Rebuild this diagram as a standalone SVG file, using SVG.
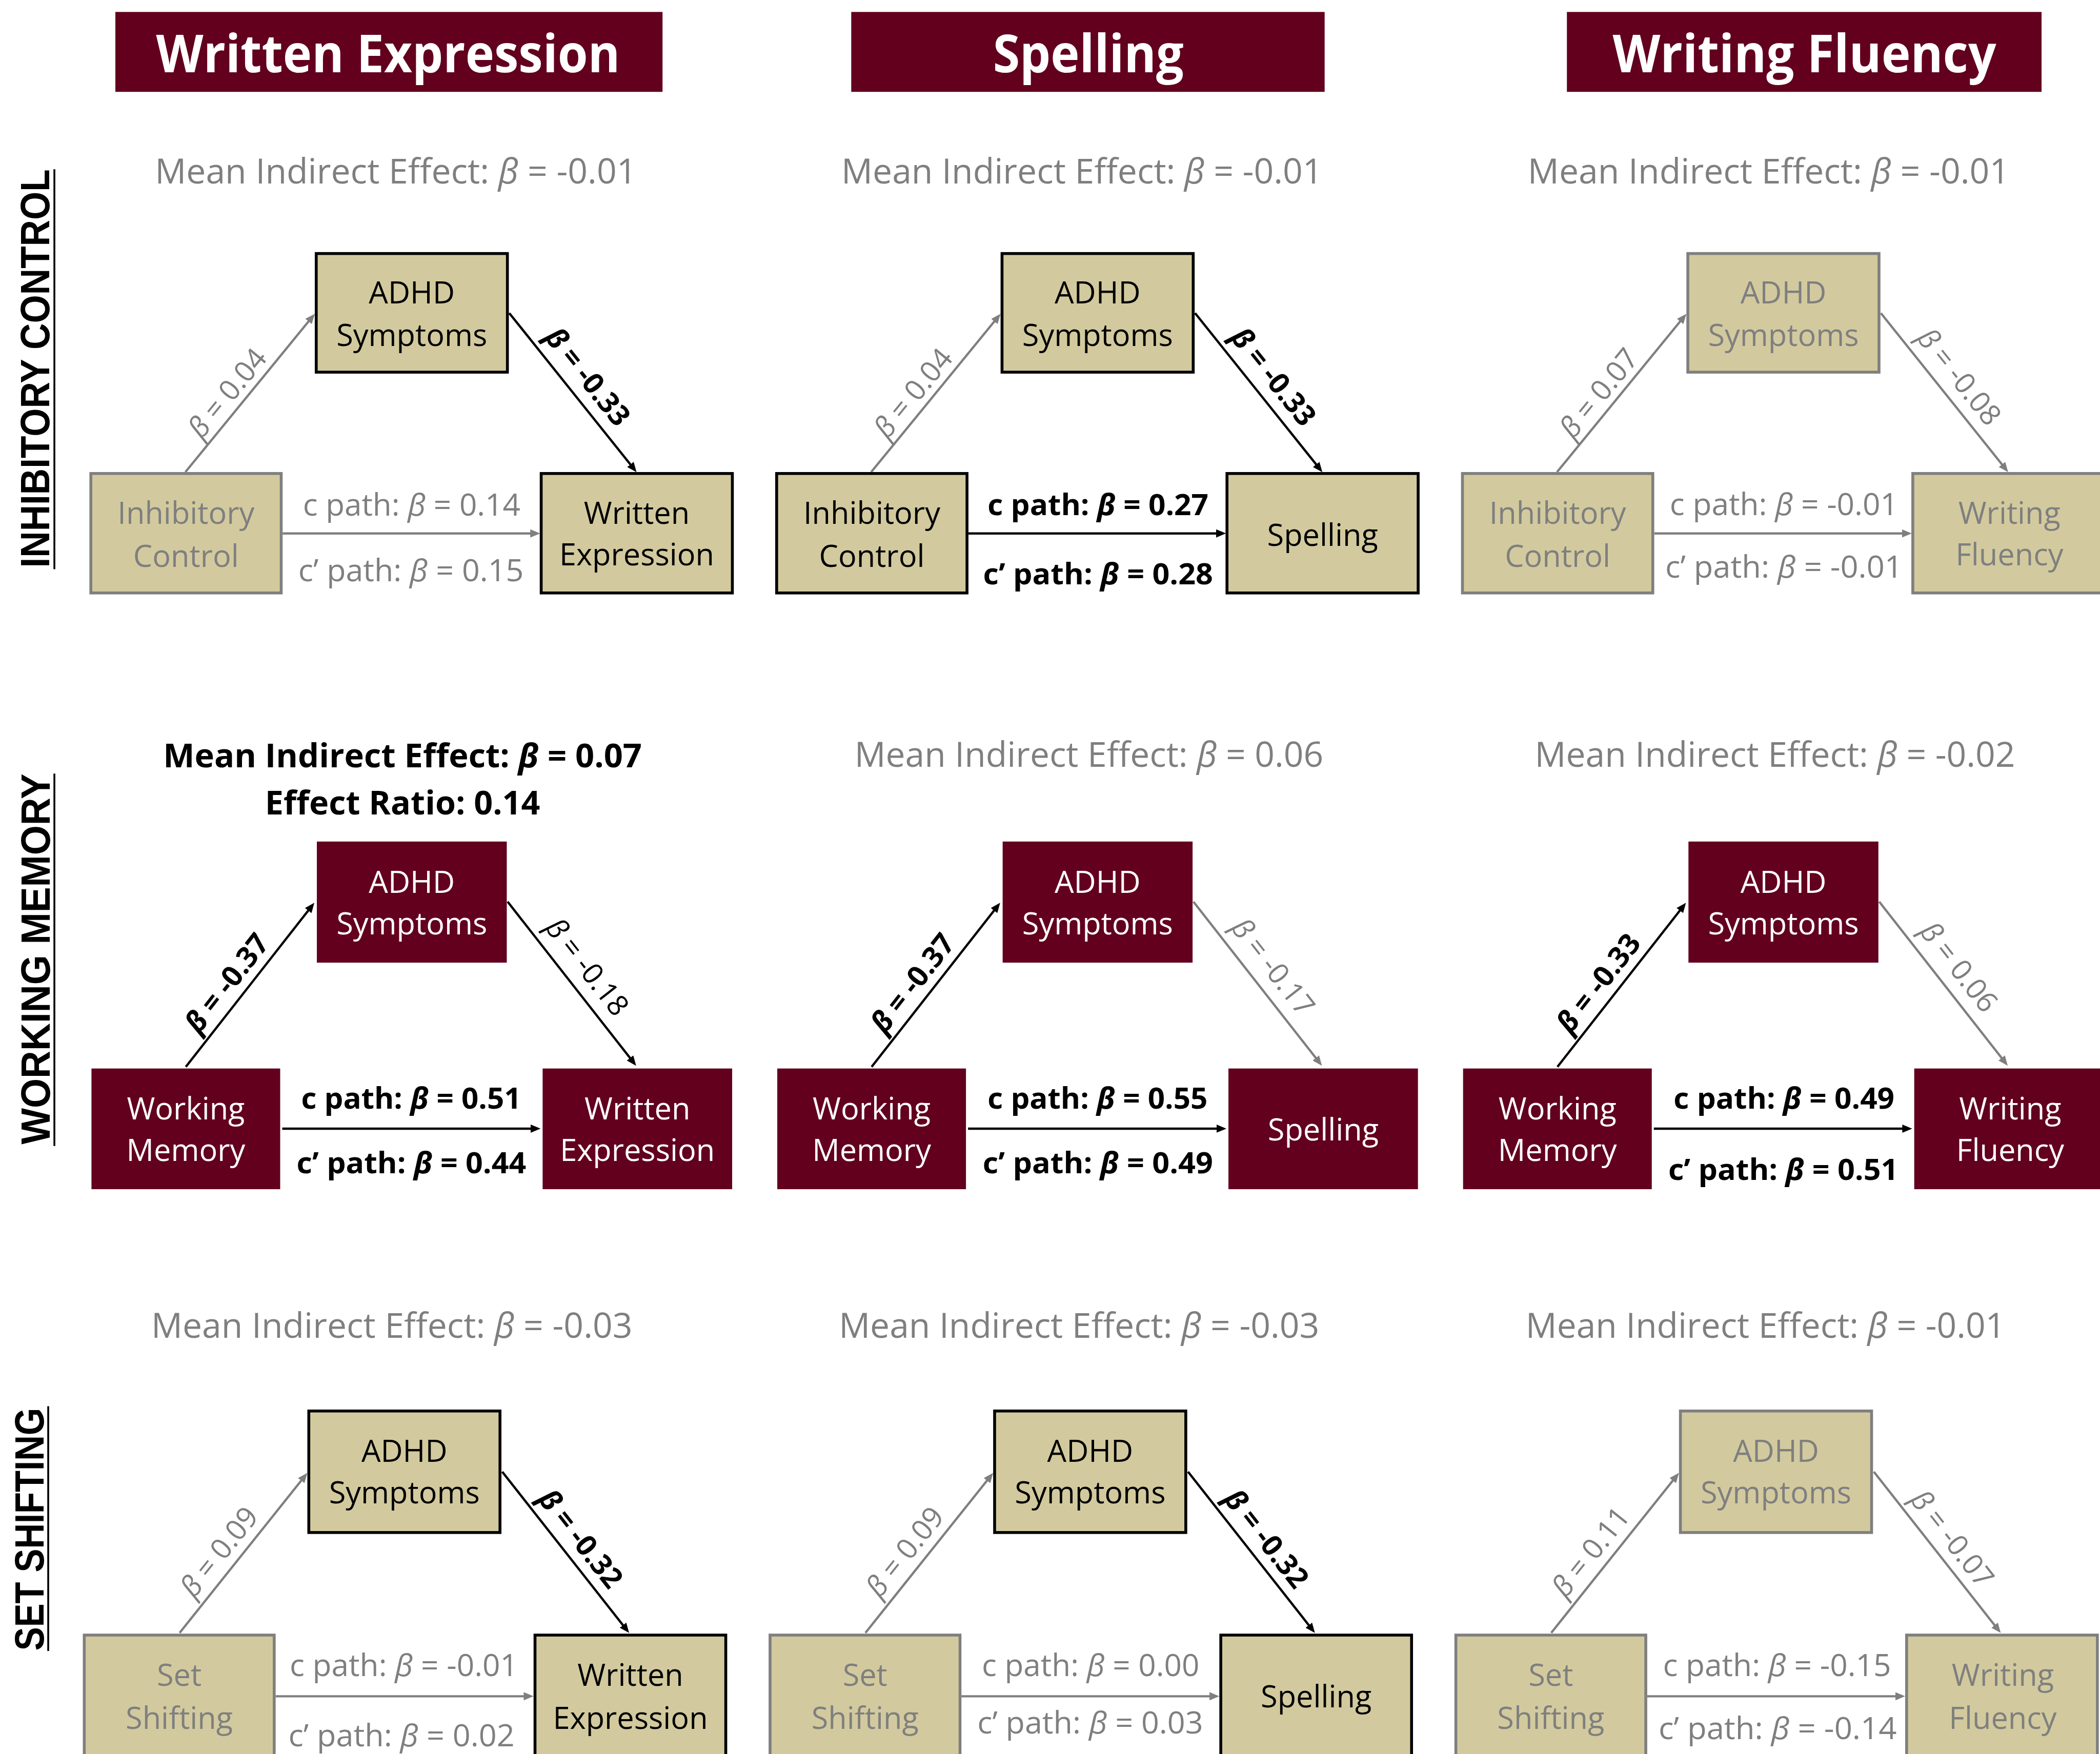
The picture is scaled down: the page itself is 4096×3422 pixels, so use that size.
<svg xmlns="http://www.w3.org/2000/svg" width="4096" height="3422" viewBox="0 0 4096 3422">
<defs>
<style>
text { font-family: "Open Sans", "Noto Sans", "DejaVu Sans", sans-serif; }
.hd { font-size:127px; font-weight:700; fill:#ffffff; text-anchor:middle; }
.ttl { font-size:84px; text-anchor:middle; }
.ttlb { font-size:80px; font-weight:700; text-anchor:middle; fill:#000000; }
.nd { font-size:74px; text-anchor:middle; }
.pl { font-size:74px; text-anchor:middle; }
.plb { font-size:72px; font-weight:700; text-anchor:middle; fill:#000000; }
.rl { font-size:70px; text-anchor:middle; }
.b { font-weight:700; }
.i { font-style:italic; }
.k { fill:#000000; }
.g { fill:#7F7F7F; }
.w { fill:#ffffff; }
.bx-k { fill:#D2CA9E; stroke:#000000; stroke-width:7; }
.bx-g { fill:#D2CA9E; stroke:#7F7F7F; stroke-width:7; }
.bx-m { fill:#62001E; }
.hbox { fill:#62001E; }
.ak { fill:none; stroke:#000000; stroke-width:5.5; marker-end:url(#mk); }
.ag { fill:none; stroke:#7F7F7F; stroke-width:5.5; marker-end:url(#mg); }
.row { font-family:"Liberation Sans", Arial, sans-serif; font-size:100px; font-weight:700; text-anchor:middle; fill:#000000; }
.ul { stroke:#000000; stroke-width:4.5; }
</style>
<marker id="mk" markerUnits="userSpaceOnUse" markerWidth="24" markerHeight="20" refX="16" refY="10" orient="auto"><path d="M0,0 L24,10 L0,20 z" fill="#000000"/></marker>
<marker id="mg" markerUnits="userSpaceOnUse" markerWidth="24" markerHeight="20" refX="16" refY="10" orient="auto"><path d="M0,0 L24,10 L0,20 z" fill="#7F7F7F"/></marker>
</defs>
<rect x="0" y="0" width="4096" height="3422" fill="#ffffff"/>
<g transform="scale(0.80363)">

<!-- Column headers -->
<g id="header-written-expression"><rect class="hbox" x="280" y="29" width="1328" height="194"/><text class="hd" x="942" y="175" textLength="1126" lengthAdjust="spacingAndGlyphs">Written Expression</text></g>
<g id="header-spelling"><rect class="hbox" x="2066" y="29" width="1149" height="194"/><text class="hd" x="2641.5" y="175" textLength="463" lengthAdjust="spacingAndGlyphs">Spelling</text></g>
<g id="header-writing-fluency"><rect class="hbox" x="3803" y="29" width="1152" height="194"/><text class="hd" x="4379.5" y="175" textLength="931" lengthAdjust="spacingAndGlyphs">Writing Fluency</text></g>

<!-- Row labels -->
<g id="row-inhibitory-control"><text class="row" transform="translate(120,894.5) rotate(-90)" textLength="967" lengthAdjust="spacingAndGlyphs">INHIBITORY CONTROL</text><line class="ul" x1="132" y1="411" x2="132" y2="1382"/></g>
<g id="row-working-memory"><text class="row" transform="translate(121,2328) rotate(-90)" textLength="900" lengthAdjust="spacingAndGlyphs">WORKING MEMORY</text><line class="ul" x1="132" y1="1878" x2="132" y2="2782"/></g>
<g id="row-set-shifting"><text class="row" transform="translate(106,3712.5) rotate(-90)" textLength="589" lengthAdjust="spacingAndGlyphs">SET SHIFTING</text><line class="ul" x1="117" y1="3414" x2="117" y2="4008"/></g>

<!-- ROW 1 : Inhibitory Control -->
<g id="panel-r1c1">
<text class="ttl g" x="960.5" y="445" textLength="1169" lengthAdjust="spacingAndGlyphs">Mean Indirect Effect: <tspan class="i">β</tspan> = -0.01</text>
<g id="r1c1-connectors">
<path class="ag" d="M450,1146 L759,768"/>
<path class="ak" d="M1236,760 L1540,1140"/>
<path class="ag" d="M686,1295 L1303,1295"/>
<text class="rl g" transform="translate(551,954) rotate(-50.7)" y="25"><tspan class="i">β</tspan> = 0.04</text>
<text class="rl k b" transform="translate(1427,914) rotate(51.3)" y="25"><tspan class="i">β</tspan> = -0.33</text>
<text class="pl g" x="999" y="1252" textLength="528" lengthAdjust="spacingAndGlyphs">c path: <tspan class="i">β</tspan> = 0.14</text>
<text class="pl g" x="997.5" y="1411" textLength="547" lengthAdjust="spacingAndGlyphs">c’ path: <tspan class="i">β</tspan> = 0.15</text>
</g>
<g id="r1c1-adhd"><rect class="bx-k" x="767.5" y="615.5" width="464" height="288"/><text class="nd k" x="999.5" y="737">ADHD</text><text class="nd k" x="999.5" y="840">Symptoms</text></g>
<g id="r1c1-inhibitory"><rect class="bx-g" x="220.5" y="1149.5" width="462" height="290"/><text class="nd g" x="451.5" y="1272">Inhibitory</text><text class="nd g" x="451.5" y="1376">Control</text></g>
<g id="r1c1-written"><rect class="bx-k" x="1313.5" y="1149.5" width="464" height="290"/><text class="nd k" x="1545.5" y="1272">Written</text><text class="nd k" x="1545.5" y="1373">Expression</text></g>
</g>

<g id="panel-r1c2" transform="translate(1664.5,0)">
<text class="ttl g" x="961.5" y="445" textLength="1168" lengthAdjust="spacingAndGlyphs">Mean Indirect Effect: <tspan class="i">β</tspan> = -0.01</text>
<g id="r1c2-connectors">
<path class="ag" d="M450,1146 L759,768"/>
<path class="ak" d="M1236,760 L1540,1140"/>
<path class="ak" d="M686,1295 L1303,1295"/>
<text class="rl g" transform="translate(551,954) rotate(-50.7)" y="25"><tspan class="i">β</tspan> = 0.04</text>
<text class="rl k b" transform="translate(1427,914) rotate(51.3)" y="25"><tspan class="i">β</tspan> = -0.33</text>
<text class="plb" x="1000.5" y="1251" textLength="536" lengthAdjust="spacingAndGlyphs">c path: <tspan class="i">β</tspan> = 0.27</text>
<text class="plb" x="1000.5" y="1418" textLength="558" lengthAdjust="spacingAndGlyphs">c’ path: <tspan class="i">β</tspan> = 0.28</text>
</g>
<g id="r1c2-adhd"><rect class="bx-k" x="767.5" y="615.5" width="464" height="288"/><text class="nd k" x="999.5" y="737">ADHD</text><text class="nd k" x="999.5" y="840">Symptoms</text></g>
<g id="r1c2-inhibitory"><rect class="bx-k" x="220.5" y="1149.5" width="462" height="290"/><text class="nd k" x="451.5" y="1272">Inhibitory</text><text class="nd k" x="451.5" y="1376">Control</text></g>
<g id="r1c2-spelling"><rect class="bx-k" x="1313.5" y="1149.5" width="464" height="290"/><text class="nd k" x="1545.5" y="1325">Spelling</text></g>
</g>

<g id="panel-r1c3" transform="translate(3329,0)">
<text class="ttl g" x="963.5" y="445" textLength="1169" lengthAdjust="spacingAndGlyphs">Mean Indirect Effect: <tspan class="i">β</tspan> = -0.01</text>
<g id="r1c3-connectors">
<path class="ag" d="M450,1146 L759,768"/>
<path class="ag" d="M1236,760 L1540,1140"/>
<path class="ag" d="M686,1295 L1303,1295"/>
<text class="rl g" transform="translate(551,954) rotate(-50.7)" y="25"><tspan class="i">β</tspan> = 0.07</text>
<text class="rl g" transform="translate(1427,914) rotate(51.3)" y="25"><tspan class="i">β</tspan> = -0.08</text>
<text class="pl g" x="1000.7" y="1251" textLength="554" lengthAdjust="spacingAndGlyphs">c path: <tspan class="i">β</tspan> = -0.01</text>
<text class="pl g" x="1000.7" y="1402" textLength="576" lengthAdjust="spacingAndGlyphs">c’ path: <tspan class="i">β</tspan> = -0.01</text>
</g>
<g id="r1c3-adhd"><rect class="bx-g" x="767.5" y="615.5" width="464" height="288"/><text class="nd g" x="999.5" y="737">ADHD</text><text class="nd g" x="999.5" y="840">Symptoms</text></g>
<g id="r1c3-inhibitory"><rect class="bx-g" x="220.5" y="1149.5" width="462" height="290"/><text class="nd g" x="451.5" y="1272">Inhibitory</text><text class="nd g" x="451.5" y="1376">Control</text></g>
<g id="r1c3-fluency"><rect class="bx-g" x="1313.5" y="1149.5" width="464" height="290"/><text class="nd g" x="1548" y="1272">Writing</text><text class="nd g" x="1548" y="1373">Fluency</text></g>
</g>

<!-- ROW 2 : Working Memory -->
<g id="panel-r2c1">
<text class="ttlb" x="977" y="1863" textLength="1162" lengthAdjust="spacingAndGlyphs">Mean Indirect Effect: <tspan class="i">β</tspan> = 0.07</text>
<text class="ttlb" x="977" y="1977" textLength="668" lengthAdjust="spacingAndGlyphs">Effect Ratio: 0.14</text>
<g id="r2c1-connectors">
<path class="ak" d="M451,2590 L758,2198"/>
<path class="ak" d="M1232,2189 L1539,2581"/>
<path class="ak" d="M685,2740 L1304,2740"/>
<text class="rl k b" transform="translate(550,2386) rotate(-51.9)" y="25"><tspan class="i">β</tspan> = -0.37</text>
<text class="rl k" transform="translate(1426,2347) rotate(51.9)" y="25"><tspan class="i">β</tspan> = -0.18</text>
<text class="plb" x="998" y="2691" textLength="534" lengthAdjust="spacingAndGlyphs">c path: <tspan class="i">β</tspan> = 0.51</text>
<text class="plb" x="998.5" y="2848" textLength="557" lengthAdjust="spacingAndGlyphs">c’ path: <tspan class="i">β</tspan> = 0.44</text>
</g>
<g id="r2c1-adhd"><rect class="bx-m" x="769" y="2043" width="461" height="294"/><text class="nd w" x="999.5" y="2168">ADHD</text><text class="nd w" x="999.5" y="2268">Symptoms</text></g>
<g id="r2c1-working"><rect class="bx-m" x="222" y="2594" width="458" height="293"/><text class="nd w" x="451" y="2718">Working</text><text class="nd w" x="451" y="2819">Memory</text></g>
<g id="r2c1-written"><rect class="bx-m" x="1317" y="2594" width="460" height="293"/><text class="nd w" x="1547" y="2718">Written</text><text class="nd w" x="1547" y="2819">Expression</text></g>
</g>

<g id="panel-r2c2" transform="translate(1664.5,0)">
<text class="ttl g" x="978.5" y="1862" textLength="1138" lengthAdjust="spacingAndGlyphs">Mean Indirect Effect: <tspan class="i">β</tspan> = 0.06</text>
<g id="r2c2-connectors">
<path class="ak" d="M451,2590 L758,2198"/>
<path class="ag" d="M1232,2189 L1539,2581"/>
<path class="ak" d="M685,2740 L1304,2740"/>
<text class="rl k b" transform="translate(550,2386) rotate(-51.9)" y="25"><tspan class="i">β</tspan> = -0.37</text>
<text class="rl g" transform="translate(1426,2347) rotate(51.9)" y="25"><tspan class="i">β</tspan> = -0.17</text>
<text class="plb" x="999.5" y="2691" textLength="534" lengthAdjust="spacingAndGlyphs">c path: <tspan class="i">β</tspan> = 0.55</text>
<text class="plb" x="1000" y="2848" textLength="559" lengthAdjust="spacingAndGlyphs">c’ path: <tspan class="i">β</tspan> = 0.49</text>
</g>
<g id="r2c2-adhd"><rect class="bx-m" x="769" y="2043" width="461" height="294"/><text class="nd w" x="999.5" y="2168">ADHD</text><text class="nd w" x="999.5" y="2268">Symptoms</text></g>
<g id="r2c2-working"><rect class="bx-m" x="222" y="2594" width="458" height="293"/><text class="nd w" x="451" y="2718">Working</text><text class="nd w" x="451" y="2819">Memory</text></g>
<g id="r2c2-spelling"><rect class="bx-m" x="1317" y="2594" width="460" height="293"/><text class="nd w" x="1547" y="2769">Spelling</text></g>
</g>

<g id="panel-r2c3" transform="translate(3329,0)">
<text class="ttl g" x="979" y="1862" textLength="1166" lengthAdjust="spacingAndGlyphs">Mean Indirect Effect: <tspan class="i">β</tspan> = -0.02</text>
<g id="r2c3-connectors">
<path class="ak" d="M451,2590 L758,2198"/>
<path class="ag" d="M1232,2189 L1539,2581"/>
<path class="ak" d="M685,2740 L1304,2740"/>
<text class="rl k b" transform="translate(550,2386) rotate(-51.9)" y="25"><tspan class="i">β</tspan> = -0.33</text>
<text class="rl g" transform="translate(1426,2347) rotate(51.9)" y="25"><tspan class="i">β</tspan> = 0.06</text>
<text class="plb" x="1001" y="2691" textLength="536" lengthAdjust="spacingAndGlyphs">c path: <tspan class="i">β</tspan> = 0.49</text>
<text class="plb" x="999" y="2865" textLength="558" lengthAdjust="spacingAndGlyphs">c’ path: <tspan class="i">β</tspan> = 0.51</text>
</g>
<g id="r2c3-adhd"><rect class="bx-m" x="769" y="2043" width="461" height="294"/><text class="nd w" x="999.5" y="2168">ADHD</text><text class="nd w" x="999.5" y="2268">Symptoms</text></g>
<g id="r2c3-working"><rect class="bx-m" x="222" y="2594" width="458" height="293"/><text class="nd w" x="451" y="2718">Working</text><text class="nd w" x="451" y="2819">Memory</text></g>
<g id="r2c3-fluency"><rect class="bx-m" x="1317" y="2594" width="460" height="293"/><text class="nd w" x="1550" y="2718">Writing</text><text class="nd w" x="1550" y="2819">Fluency</text></g>
</g>

<!-- ROW 3 : Set Shifting -->
<g id="panel-r3c1">
<text class="ttl g" x="951" y="3248" textLength="1168" lengthAdjust="spacingAndGlyphs">Mean Indirect Effect: <tspan class="i">β</tspan> = -0.03</text>
<g id="r3c1-connectors">
<path class="ag" d="M436,3964 L741,3582"/>
<path class="ak" d="M1219,3573 L1522,3958"/>
<path class="ag" d="M669,4118 L1287,4118"/>
<text class="rl g" transform="translate(531,3767) rotate(-51.4)" y="25"><tspan class="i">β</tspan> = 0.09</text>
<text class="rl k b" transform="translate(1410,3735) rotate(51.8)" y="25"><tspan class="i">β</tspan> = -0.32</text>
<text class="pl g" x="980" y="4069" textLength="554" lengthAdjust="spacingAndGlyphs">c path: <tspan class="i">β</tspan> = -0.01</text>
<text class="pl g" x="974.5" y="4240" textLength="549" lengthAdjust="spacingAndGlyphs">c’ path: <tspan class="i">β</tspan> = 0.02</text>
</g>
<g id="r3c1-adhd"><rect class="bx-k" x="749.5" y="3425.5" width="464" height="295"/><text class="nd k" x="981.5" y="3549">ADHD</text><text class="nd k" x="981.5" y="3650">Symptoms</text></g>
<g id="r3c1-set"><rect class="bx-g" x="204.5" y="3969.5" width="461" height="300"/><text class="nd g" x="435" y="4093">Set</text><text class="nd g" x="435" y="4197">Shifting</text></g>
<g id="r3c1-written"><rect class="bx-k" x="1298.5" y="3969.5" width="463" height="300"/><text class="nd k" x="1530" y="4093">Written</text><text class="nd k" x="1530" y="4197">Expression</text></g>
</g>

<g id="panel-r3c2" transform="translate(1664.5,0)">
<text class="ttl g" x="954.5" y="3248" textLength="1166" lengthAdjust="spacingAndGlyphs">Mean Indirect Effect: <tspan class="i">β</tspan> = -0.03</text>
<g id="r3c2-connectors">
<path class="ag" d="M436,3964 L741,3582"/>
<path class="ak" d="M1219,3573 L1522,3958"/>
<path class="ag" d="M669,4118 L1287,4118"/>
<text class="rl g" transform="translate(531,3767) rotate(-51.4)" y="25"><tspan class="i">β</tspan> = 0.09</text>
<text class="rl k b" transform="translate(1410,3735) rotate(51.8)" y="25"><tspan class="i">β</tspan> = -0.32</text>
<text class="pl g" x="982.5" y="4069" textLength="528" lengthAdjust="spacingAndGlyphs">c path: <tspan class="i">β</tspan> = 0.00</text>
<text class="pl g" x="981.5" y="4208" textLength="548" lengthAdjust="spacingAndGlyphs">c’ path: <tspan class="i">β</tspan> = 0.03</text>
</g>
<g id="r3c2-adhd"><rect class="bx-k" x="749.5" y="3425.5" width="464" height="295"/><text class="nd k" x="981.5" y="3549">ADHD</text><text class="nd k" x="981.5" y="3650">Symptoms</text></g>
<g id="r3c2-set"><rect class="bx-g" x="204.5" y="3969.5" width="461" height="300"/><text class="nd g" x="435" y="4093">Set</text><text class="nd g" x="435" y="4197">Shifting</text></g>
<g id="r3c2-spelling"><rect class="bx-k" x="1298.5" y="3969.5" width="463" height="300"/><text class="nd k" x="1530" y="4145">Spelling</text></g>
</g>

<g id="panel-r3c3" transform="translate(3329,0)">
<text class="ttl g" x="956" y="3248" textLength="1164" lengthAdjust="spacingAndGlyphs">Mean Indirect Effect: <tspan class="i">β</tspan> = -0.01</text>
<g id="r3c3-connectors">
<path class="ag" d="M436,3964 L741,3582"/>
<path class="ag" d="M1219,3573 L1522,3958"/>
<path class="ag" d="M669,4118 L1287,4118"/>
<text class="rl g" transform="translate(531,3767) rotate(-51.4)" y="25"><tspan class="i">β</tspan> = 0.11</text>
<text class="rl g" transform="translate(1410,3735) rotate(51.8)" y="25"><tspan class="i">β</tspan> = -0.07</text>
<text class="pl g" x="984" y="4069" textLength="554" lengthAdjust="spacingAndGlyphs">c path: <tspan class="i">β</tspan> = -0.15</text>
<text class="pl g" x="985.5" y="4222" textLength="578" lengthAdjust="spacingAndGlyphs">c’ path: <tspan class="i">β</tspan> = -0.14</text>
</g>
<g id="r3c3-adhd"><rect class="bx-g" x="749.5" y="3425.5" width="464" height="295"/><text class="nd g" x="981.5" y="3549">ADHD</text><text class="nd g" x="981.5" y="3650">Symptoms</text></g>
<g id="r3c3-set"><rect class="bx-g" x="204.5" y="3969.5" width="461" height="300"/><text class="nd g" x="435" y="4093">Set</text><text class="nd g" x="435" y="4197">Shifting</text></g>
<g id="r3c3-fluency"><rect class="bx-g" x="1298.5" y="3969.5" width="463" height="300"/><text class="nd g" x="1532" y="4093">Writing</text><text class="nd g" x="1532" y="4197">Fluency</text></g>
</g>

</g>
</svg>
